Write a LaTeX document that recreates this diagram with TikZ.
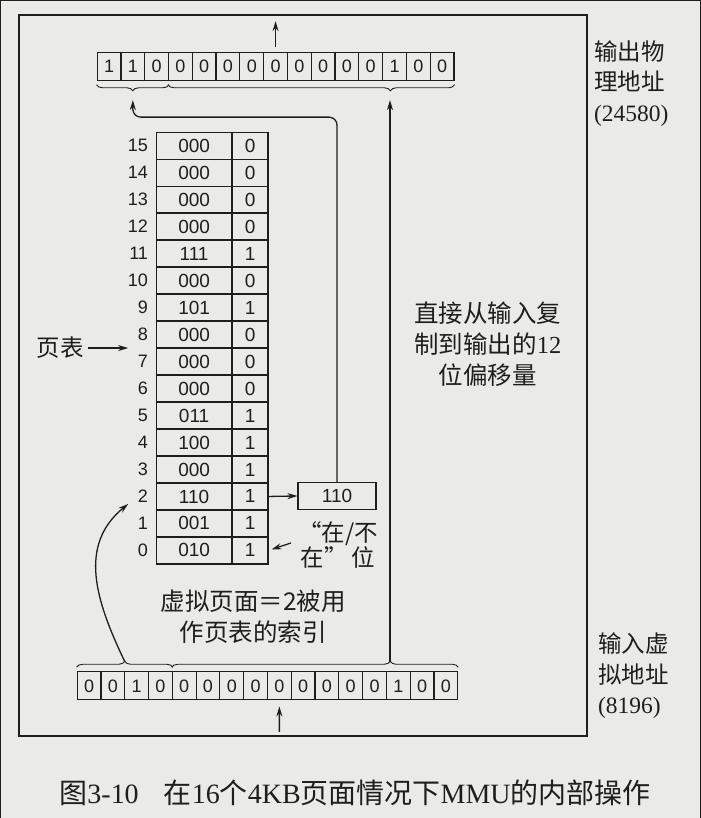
\documentclass[tikz,border=0pt]{standalone}
\usepackage{fontspec}
\setmainfont{Liberation Serif}
\setsansfont{Liberation Sans}
\newfontfamily\cjk{Noto Sans CJK SC}
\usetikzlibrary{decorations.pathreplacing,arrows.meta,calc}
\definecolor{bgc}{RGB}{234,234,232}
\definecolor{ink}{RGB}{30,30,30}
\begin{document}
\begin{tikzpicture}[x=1pt,y=-1pt,
  every path/.style={draw=ink},
  frame/.style={draw=ink,line width=1.7pt},
  rcell/.style={draw=ink,line width=1.2pt,minimum width=23.8pt,minimum height=28pt,inner sep=0pt,text=ink,font=\sffamily\fontsize{18}{18}\selectfont},
  tA/.style={draw=ink,line width=1.2pt,minimum width=76pt,minimum height=27pt,inner sep=0pt,text=ink,font=\sffamily\fontsize{19}{19}\selectfont},
  tB/.style={tA,minimum width=36pt},
  rlab/.style={anchor=east,inner sep=0pt,text=ink,font=\sffamily\fontsize{18}{18}\selectfont},
  lbl/.style={inner sep=0pt,text=ink,font=\cjk\fontsize{23.5}{30.5}\selectfont},
  arr/.style={draw=ink,-{Stealth[length=10pt,width=6pt]},line width=1.3pt},
  brc/.style={draw=ink,decorate,decoration={brace,amplitude=6pt},line width=0.9pt},
]
\fill[bgc] (0,0) rectangle (700,818);
\useasboundingbox (0,0) rectangle (700,818);
\draw[frame] (19,15) rectangle (587,736);

% output physical address (15 bits)
\foreach \b [count=\i from 0] in {1,1,0,0,0,0,0,0,0,0,0,0,1,0,0}
  \node[rcell] (p\i) at ({108.9+23.8*\i},66) {\b};
% input virtual address (16 bits)
\foreach \b [count=\i from 0] in {0,0,1,0,0,0,0,0,0,0,0,0,0,1,0,0}
  \node[rcell] (q\i) at ({88.9+23.8*\i},686) {\b};

% braces
\draw[brc] ($(p2.south east)+(0,4)$) -- ($(p0.south west)+(0,4)$);
\draw[brc,decoration={aspect=0.224}] ($(p14.south east)+(0,4)$) -- ($(p3.south west)+(0,4)$);
\draw[brc] ($(q0.north west)+(0,-4)$) -- ($(q3.north east)+(0,-4)$);
\draw[brc,decoration={aspect=0.762}] ($(q4.north west)+(0,-4)$) -- ($(q15.north east)+(0,-4)$);

% page table
\foreach \r/\f/\p in {15/000/0,14/000/0,13/000/0,12/000/0,11/111/1,10/000/0,9/101/1,8/000/0,7/000/0,6/000/0,5/011/1,4/100/1,3/000/1,2/110/1,1/001/1,0/010/1}{
  \node[tA] (a\r) at (194,{145.5+27*(15-\r)}) {\f};
  \node[tB] (b\r) at (250,{145.5+27*(15-\r)}) {\p};
  \node[rlab] (n\r) at (148,{145.5+27*(15-\r)}) {\r};
}

\node[tA,minimum width=78pt] (b110) at (337,496) {110};

% coordinates
\coordinate (tlA) at (132.7,100);
\coordinate (trA) at (390,100);
\coordinate (blB) at (124.8,662);
\coordinate (brB) at (390,662);
\coordinate (c2tip) at (128,504);
\coordinate (outT) at (275.5,21);
\coordinate (inB) at (279.3,732);
\coordinate (ybT) at (128,348);

% connectors
\draw[arr] ($(p7.north)+(0,-5)$) -- (outT);
\draw[arr] (inB) -- ($(q8.south)+(0,6)$);
\draw[arr,rounded corners=8pt] (b110.north) |- ($(tlA)+(0,17)$) -- (tlA);
\draw[arr] (brB) -- (trA);
\draw[arr] (blB) .. controls (95,600) and (78,545) .. (c2tip);
\draw[arr] (b2.east) -- (b110.west);

% labels
\node[lbl,align=left,anchor=west] (outL) at (594,83) {输出物\\理地址\\{\rmfamily (24580)}};
\node[lbl,align=left,anchor=west] (inL) at (598,676) {输入虚\\拟地址\\{\rmfamily (8196)}};
\node[lbl,align=center,font=\cjk\fontsize{24.5}{31}\selectfont] (offL) at (488,344) {直接从输入复\\制到输出的{\rmfamily 12}\\位偏移量};
\node[lbl,align=center,font=\cjk\fontsize{24.5}{31}\selectfont] (vpL) at (253,617) {虚拟页面＝2被用\\作页表的索引};
\node[lbl,align=center,font=\cjk\fontsize{23.5}{25}\selectfont] (zai) at (338,545) {“在/不\\在”\,位};
\draw[arr,shorten >=3pt] ($(zai.west)+(-7,-2)$) -- (b0.east);
\node[lbl,anchor=east] (yb) at (84,348) {页表};
\draw[arr] ($(yb.east)+(4,0)$) -- (ybT);

\node[inner sep=0pt,text=ink,font=\cjk\fontsize{28}{28}\selectfont] (cap) at (355,793)
  {图{\rmfamily 3-10}\hspace{0.9em}在{\rmfamily 16}个{\rmfamily 4KB}页面情况下{\rmfamily MMU}的内部操作};
\end{tikzpicture}
\end{document}
